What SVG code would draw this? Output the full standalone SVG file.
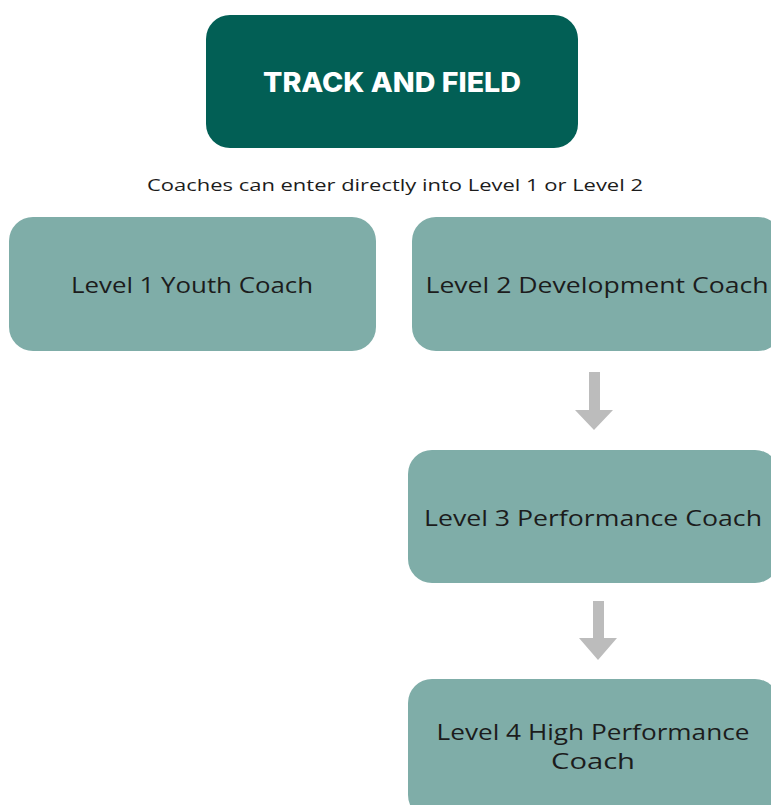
<svg xmlns="http://www.w3.org/2000/svg" width="771" height="805" viewBox="0 0 771 805">
<style>
.node rect{fill:#7fada8}
.lbl{font-family:"Open Sans","Liberation Sans",sans-serif;font-size:22px;fill:#1c1c1c;text-anchor:middle}
.lbl2{font-family:"Open Sans","Liberation Sans",sans-serif;font-size:21px;fill:#1c1c1c;text-anchor:middle}
.arrow{fill:#bcbcbc}
</style>
<rect width="771" height="805" fill="#ffffff"/>
<g id="title">
<rect x="206" y="15" width="372" height="133" rx="24" fill="#025f55"/>
<text x="392" y="92" font-family="Inter,'Liberation Sans',sans-serif" font-weight="800" font-size="27" fill="#ffffff" text-anchor="middle" textLength="258" lengthAdjust="spacingAndGlyphs">TRACK AND FIELD</text>
</g>
<g id="note">
<text x="395" y="191" font-family="'Open Sans','Liberation Sans',sans-serif" font-size="17" fill="#1c1c1c" text-anchor="middle" textLength="496" lengthAdjust="spacingAndGlyphs">Coaches can enter directly into Level 1 or Level 2</text>
</g>
<g id="level1" class="node">
<rect x="9" y="217" width="367" height="134" rx="24"/>
<text class="lbl" x="192" y="293" textLength="242" lengthAdjust="spacingAndGlyphs">Level 1 Youth Coach</text>
</g>
<g id="level2" class="node">
<rect x="412" y="217" width="370" height="134" rx="24"/>
<text class="lbl" x="597" y="293" textLength="343" lengthAdjust="spacingAndGlyphs">Level 2 Development Coach</text>
</g>
<g id="level3" class="node">
<rect x="408" y="450" width="371" height="133" rx="24"/>
<text class="lbl" x="593" y="526" textLength="338" lengthAdjust="spacingAndGlyphs">Level 3 Performance Coach</text>
</g>
<g id="level4" class="node">
<rect x="408" y="679" width="371" height="140" rx="24"/>
<text class="lbl2" x="593" y="740" textLength="313" lengthAdjust="spacingAndGlyphs">Level 4 High Performance</text>
<text class="lbl2" x="593" y="769" textLength="84" lengthAdjust="spacingAndGlyphs">Coach</text>
</g>
<g id="connectors">
<polygon class="arrow" points="589,372 600,372 600,410 613,410 594,430 575,410 589,410"/>
<polygon class="arrow" points="593,601 604,601 604,638 617,638 598,660 579,638 593,638"/>
</g>
</svg>
